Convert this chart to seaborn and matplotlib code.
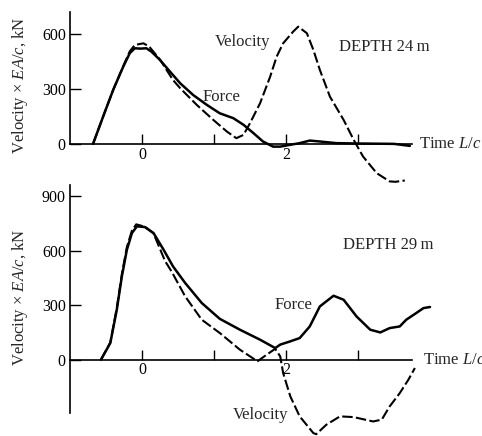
import numpy as np
import pandas as pd
import matplotlib
matplotlib.use("Agg")
import matplotlib.pyplot as plt
import seaborn as sns

sns.set_theme(style="white")
plt.rcParams['font.family'] = ['Liberation Serif', 'DejaVu Serif']
plt.rcParams['mathtext.fontset'] = 'custom'
plt.rcParams['mathtext.rm'] = 'Liberation Serif'
plt.rcParams['mathtext.it'] = 'Liberation Serif:italic'

# ---- Depth 24 m ----
t24_force = [-0.68, -0.54, -0.40, -0.26, -0.17, -0.10, -0.02, 0.06, 0.13, 0.25, 0.39, 0.53, 0.71,
             0.90, 1.08, 1.27, 1.41, 1.55, 1.68, 1.82, 1.92, 2.06, 2.19, 2.33, 2.47, 2.7, 3.0,
             3.5, 3.72]
f24_force = [0, 149, 295, 422, 495, 522, 520, 522, 504, 458, 394, 331, 267,
             213, 167, 140, 104, 58, 13, -15, -15, -5, 4, 18, 13, 4, 2,
             0, -11]
t24_vel = [-0.68, -0.54, -0.40, -0.26, -0.17, -0.10, 0.02, 0.10, 0.25, 0.43, 0.53, 0.76, 0.99,
           1.18, 1.31, 1.41, 1.50, 1.64, 1.78, 1.87, 1.96, 2.10, 2.17, 2.29, 2.38, 2.47, 2.61,
           2.80, 2.94, 3.07, 3.26, 3.44, 3.52, 3.65]
v24_vel = [0, 149, 295, 425, 505, 540, 549, 531, 460, 349, 304, 213, 131,
           67, 31, 49, 113, 222, 367, 476, 549, 613, 640, 604, 513, 404, 258,
           131, 22, -69, -160, -205, -207, -200]

# ---- Depth 29 m ----
t29_force = [-0.57, -0.44, -0.35, -0.28, -0.21, -0.14, -0.07, 0.04, 0.16, 0.30, 0.43, 0.60, 0.83,
             1.08, 1.36, 1.64, 1.85, 1.92, 2.06, 2.19, 2.33, 2.47, 2.66, 2.80, 2.98, 3.17,
             3.31, 3.44, 3.58, 3.67, 3.81, 3.91, 4.00]
f29_force = [0, 92, 275, 458, 605, 697, 734, 730, 697, 605, 514, 422, 312,
             225, 165, 110, 64, 83, 101, 119, 183, 293, 352, 330, 238, 165,
             150, 174, 183, 220, 257, 284, 290]
t29_vel = [-0.57, -0.44, -0.35, -0.28, -0.21, -0.14, -0.08, 0.04, 0.16, 0.32, 0.41, 0.60, 0.83,
           1.08, 1.36, 1.57, 1.60, 1.73, 1.85, 1.92, 1.96, 2.06, 2.19, 2.38, 2.42, 2.56, 2.75,
           2.94, 3.21, 3.33, 3.44, 3.58, 3.70, 3.79]
v29_vel = [0, 95, 285, 470, 620, 710, 745, 732, 695, 543, 486, 348, 220,
           147, 55, 0, -10, 27, 60, 18, -73, -202, -312, -404, -410, -358, -312,
           -316, -340, -330, -257, -184, -110, -46]

xticks = [0, 1, 2, 3]
xticklabels = ['0', '', '2', '']

W, H = 482, 436
fig = plt.figure(figsize=(W / 100, H / 100), dpi=100)

def px_axes(top_px, bot_px):
    left = 60 / W
    width = 410 / W
    return fig.add_axes([left, 1 - bot_px / H, width, (bot_px - top_px) / H])

ax1 = px_axes(1, 186)
ax2 = px_axes(178, 436)
for ax in (ax1, ax2):
    ax.patch.set_alpha(0)

xlim = ((60 - 142) / 72, (470 - 142) / 72)

def style(ax, ylim, yticks, ybounds):
    ax.set_xlim(*xlim)
    ax.set_ylim(*ylim)
    for s in ('top', 'right'):
        ax.spines[s].set_visible(False)
    ax.spines['bottom'].set_position(('data', 0))
    ax.spines['bottom'].set_bounds(-1.0, 3.75)
    ax.spines['left'].set_position(('data', -1.0))
    ax.spines['left'].set_bounds(*ybounds)
    for s in ('bottom', 'left'):
        ax.spines[s].set_color('black')
        ax.spines[s].set_linewidth(1.2)
    ax.set_xticks(xticks)
    ax.set_xticklabels(xticklabels)
    ax.set_yticks(yticks)
    ax.set_yticklabels([str(v) for v in yticks])
    ax.tick_params(axis='x', direction='in', length=7, width=1.0, color='black',
                   labelsize=11.5, pad=2, labelcolor='black', bottom=True)
    ax.tick_params(axis='y', direction='in', length=8, width=1.0, color='black',
                   labelsize=11.5, pad=3, labelcolor='black', left=True)
    ax.set_xlabel('')
    ax.set_ylabel('')
    ax.grid(False)

def draw(ax, tf, ff, tv, vv):
    df_f = pd.DataFrame({'t': tf, 'v': ff})
    df_v = pd.DataFrame({'t': tv, 'v': vv})
    sns.lineplot(data=df_f, x='t', y='v', ax=ax, color='black', lw=1.8,
                 sort=False, estimator=None)
    sns.lineplot(data=df_v, x='t', y='v', ax=ax, color='black', lw=1.5,
                 sort=False, estimator=None, dashes=False,
                 linestyle=(0, (5, 1.6)))

draw(ax1, t24_force, f24_force, t24_vel, v24_vel)
draw(ax2, t29_force, f29_force, t29_vel, v29_vel)
style(ax1, (-230, 780), [0, 300, 600], (0, 720))
style(ax2, (-420, 1000), [0, 300, 600, 900], (-292, 963))

fs = 12
ax1.text(1.40, 556, 'Velocity', ha='center', va='center', fontsize=fs)
ax1.text(1.11, 256, 'Force', ha='center', va='center', fontsize=fs)
ax1.text(3.36, 530, 'DEPTH 24\u2009m', ha='center', va='center', fontsize=fs)
ax1.text(3.85, 0, r'Time $L/c$', ha='left', va='center', fontsize=fs, clip_on=False)

ax2.text(3.42, 633, 'DEPTH 29\u2009m', ha='center', va='center', fontsize=fs)
ax2.text(2.10, 303, 'Force', ha='center', va='center', fontsize=fs)
ax2.text(1.65, -303, 'Velocity', ha='center', va='center', fontsize=fs)
ax2.text(3.90, 0, r'Time $L/c$', ha='left', va='center', fontsize=fs, clip_on=False)

ylab = r'Velocity $\times$ $EA/c$, kN'
fig.text(20 / W, 1 - 85 / H, ylab, rotation=90, ha='center', va='center', fontsize=fs)
fig.text(20 / W, 1 - 297 / H, ylab, rotation=90, ha='center', va='center', fontsize=fs)

fig.savefig('out.png', dpi=100)
